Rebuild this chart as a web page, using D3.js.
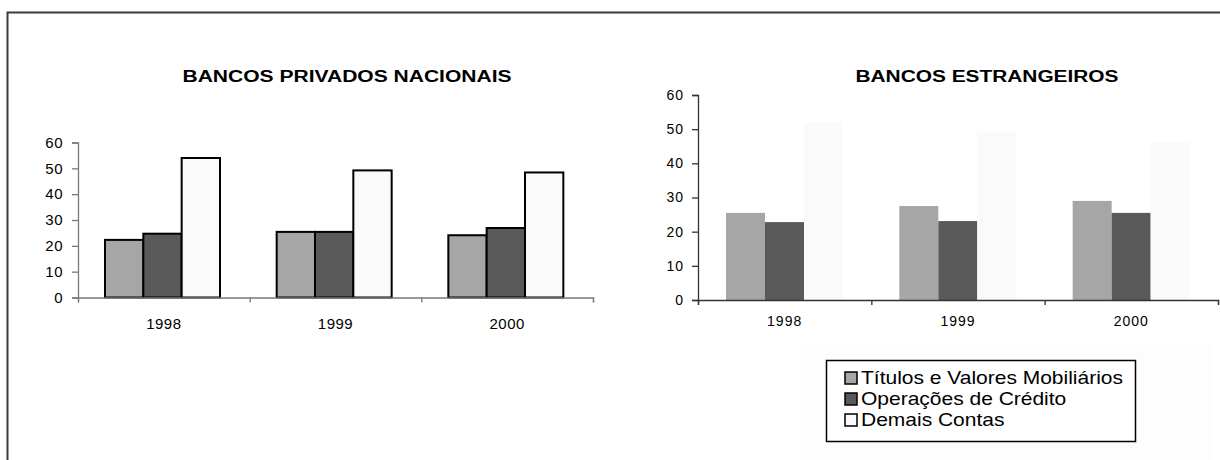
<!DOCTYPE html>
<html>
<head>
<meta charset="utf-8">
<script src="https://cdn.jsdelivr.net/npm/d3@7"></script>
<style>
  body { margin: 0; background: #fff; }
  svg { display: block; font-family: Arial, "Liberation Sans", sans-serif; }
</style>
</head>
<body>
<div id="chart"></div>
<script>
// Two bar charts: Brazilian private national banks vs foreign banks
const years = ["1998", "1999", "2000"];
const series = ["Títulos e Valores Mobiliários", "Operações de Crédito", "Demais Contas"];
const colors = ["#a6a6a6", "#595959", "#fafafa"];
const yTicks = [0, 10, 20, 30, 40, 50, 60];

// BANCOS PRIVADOS NACIONAIS
const nacTitulos = [22.3, 25.4, 24.1];
const nacCredito = [24.7, 25.4, 26.9];
const nacDemais = [54.0, 49.2, 48.4];

// BANCOS ESTRANGEIROS
const estTitulos = [25.5, 27.5, 29.0];
const estCredito = [22.8, 23.1, 25.5];
const estDemais = [52.1, 49.2, 46.0];

const svg = d3.select("#chart")
  .append("svg")
  .attr("width", 1220)
  .attr("height", 460);

// outer frame (open at right and bottom, as in the source)
svg.append("rect")
  .attr("x", 7.5).attr("y", 12.5)
  .attr("width", 1300).attr("height", 500)
  .attr("fill", "none")
  .attr("stroke", "#3a3a3a")
  .attr("stroke-width", 2);

function drawChart(cfg) {
  const g = svg.append("g");
  const values = [cfg.titulos, cfg.credito, cfg.demais];
  const rows = years.map((yr, i) => ({ year: yr, vals: values.map(v => v[i]) }));

  const y = d3.scaleLinear().domain([0, 60]).range([cfg.y0, cfg.y60]);
  const x = d3.scaleBand().domain(years).range([cfg.x0, cfg.x1]);
  const xs = d3.scaleBand().domain(series).range(cfg.inner);
  const xEdge = d3.scaleLinear().domain([0, years.length]).range([cfg.x0, cfg.x1]);

  // the source image is stretched sideways, so titles are fitted to width
  g.append("text")
    .attr("x", cfg.titleX).attr("y", 82)
    .attr("text-anchor", "middle")
    .attr("textLength", cfg.titleW)
    .attr("lengthAdjust", "spacingAndGlyphs")
    .style("font-size", "16px")
    .style("font-weight", "bold")
    .text(cfg.title);

  // bars
  const grp = g.selectAll(".grp").data(rows).enter().append("g")
    .attr("transform", d => `translate(${x(d.year)},0)`);
  grp.selectAll("rect")
    .data(d => d.vals.map((v, k) => ({ v, k })))
    .enter().append("rect")
    .attr("x", d => xs(series[d.k]))
    .attr("width", xs.bandwidth())
    .attr("y", d => y(d.v))
    .attr("height", d => y(0) - y(d.v))
    .attr("fill", d => colors[d.k])
    .attr("stroke", cfg.barStroke)
    .attr("stroke-width", cfg.barStroke === "none" ? 0 : 2);

  // y axis
  const yAxis = g.append("g")
    .attr("transform", `translate(${cfg.x0},0)`)
    .call(d3.axisLeft(y).tickValues(yTicks).tickSize(6).tickPadding(cfg.yPad));
  yAxis.selectAll("path, line").attr("stroke", cfg.axisColor).attr("stroke-width", 1.3);
  yAxis.selectAll("text")
    .style("font-size", cfg.tickFont)
    .style("letter-spacing", cfg.spacing)
    .attr("font-family", null)
    .attr("fill", "#000");

  // x axis line with boundary ticks
  const xLine = g.append("g")
    .attr("transform", `translate(0,${cfg.y0})`)
    .call(d3.axisBottom(xEdge).tickValues(d3.range(years.length + 1)).tickSize(5).tickFormat(""));
  xLine.selectAll("path, line").attr("stroke", cfg.axisColor).attr("stroke-width", 1.3);

  // category labels
  const xLab = g.append("g")
    .attr("transform", `translate(0,${cfg.y0})`)
    .call(d3.axisBottom(x).tickSize(0).tickPadding(cfg.xPad));
  xLab.select(".domain").remove();
  xLab.selectAll("text")
    .style("font-size", cfg.tickFont)
    .style("letter-spacing", cfg.spacing)
    .attr("font-family", null)
    .attr("fill", "#000");
}

drawChart({
  title: "BANCOS PRIVADOS NACIONAIS", titleX: 347, titleW: 329,
  titulos: nacTitulos, credito: nacCredito, demais: nacDemais,
  x0: 78, x1: 593, y0: 297.5, y60: 142.5, inner: [27, 142],
  barStroke: "#000", axisColor: "#7a7a7a",
  tickFont: "15px", spacing: "0.5px", yPad: 9, xPad: 21
});

drawChart({
  title: "BANCOS ESTRANGEIROS", titleX: 987, titleW: 263,
  titulos: estTitulos, credito: estCredito, demais: estDemais,
  x0: 698, x1: 1218, y0: 300, y60: 95, inner: [28, 145],
  barStroke: "none", axisColor: "#333",
  tickFont: "14px", spacing: "1px", yPad: 8, xPad: 16
});

// legend
const legend = svg.append("g");
legend.append("rect")
  .attr("x", 800).attr("y", 343).attr("width", 410).attr("height", 117)
  .attr("fill", "#fdfdfd");
legend.append("rect")
  .attr("x", 826.5).attr("y", 360.5).attr("width", 309).attr("height", 81)
  .attr("fill", "#fff")
  .attr("stroke", "#000")
  .attr("stroke-width", 1.5);

const items = legend.selectAll(".item").data(series).enter().append("g")
  .attr("transform", (d, i) => `translate(845,${372 + i * 21})`);
items.append("rect")
  .attr("width", 12).attr("height", 12)
  .attr("fill", (d, i) => colors[i])
  .attr("stroke", "#000")
  .attr("stroke-width", 1.5);
items.append("text")
  .attr("transform", "translate(16,11.5) scale(1.2,1)")
  .style("font-size", "17.5px")
  .text(d => d);
</script>
</body>
</html>
